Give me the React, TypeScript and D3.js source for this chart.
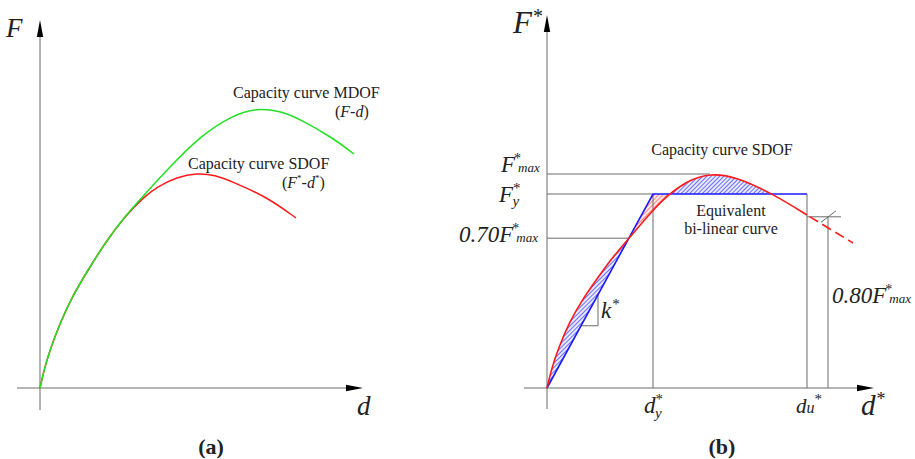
import React from "react";
import * as d3 from "d3";

// Panel (a): capacity curves (displacement d, base shear F)
const mdofD = [0, 4, 10, 20, 32, 48, 65, 85, 105, 127, 160, 193, 217, 240, 260, 293, 314];
const mdofF = [0, 18, 38, 65, 91, 118, 145, 172, 194, 218, 252, 273, 280, 277, 269, 250, 234];
const sdofD = [0, 4, 10, 20, 32, 48, 65, 85, 105, 117, 137, 157, 175, 193, 227, 256];
const sdofF = [0, 18, 38, 65, 91, 118, 145, 172, 192, 201, 211, 215, 213, 206, 191, 170];

// Panel (b): SDOF capacity curve and its bi-linear idealisation
const curveD = [0, 5, 12, 22, 35, 52, 65, 83, 106, 121, 140, 163, 190, 226, 260];
const curveF = [0, 21, 41, 65, 88, 112, 130, 151, 178, 193, 207, 215, 211, 194, 173];
const tailD = [260, 283, 306];
const tailF = [173, 159, 145];
const Fmax = 214;
const dFmax = 163;
const Fy = 194;
const dy = 106;
const du = 260;
const dAt80 = 281;
const ratio70 = 0.7;
const ratio80 = 0.8;

type P = [number, number];
const zip = (a: number[], b: number[]): P[] => a.map((v, i) => [v, b[i]]);

const SERIF = "'Liberation Serif', 'Times New Roman', 'DejaVu Serif', serif";
const AXIS = "#6b6b6b";
const TEXT = "#222";

const T = ({
  x,
  y,
  size,
  italic,
  bold,
  anchor,
  children,
}: {
  x: number;
  y: number;
  size: number;
  italic?: boolean;
  bold?: boolean;
  anchor?: "start" | "middle" | "end";
  children: React.ReactNode;
}) => (
  <text
    x={x}
    y={y}
    textAnchor={anchor ?? "start"}
    style={{
      fontFamily: SERIF,
      fontSize: size,
      fontStyle: italic ? "italic" : "normal",
      fontWeight: bold ? "bold" : "normal",
      fill: TEXT,
    }}
  >
    {children}
  </text>
);

export default function App() {
  // scales panel (a)
  const xA = d3.scaleLinear().domain([0, 320]).range([40, 360]);
  const yA = d3.scaleLinear().domain([0, 280]).range([388, 108]);
  // scales panel (b)
  const xB = d3.scaleLinear().domain([0, 330]).range([547, 877]);
  const yB = d3.scaleLinear().domain([0, 380]).range([388, 8]);

  const smooth = d3.curveBasis;
  const lineA = d3
    .line<P>()
    .x((p) => xA(p[0]))
    .y((p) => yA(p[1]))
    .curve(smooth);
  const lineB = d3
    .line<P>()
    .x((p) => xB(p[0]))
    .y((p) => yB(p[1]))
    .curve(smooth);
  const straightB = d3
    .line<P>()
    .x((p) => xB(p[0]))
    .y((p) => yB(p[1]));

  const mdof = zip(mdofD, mdofF);
  const sdof = zip(sdofD, sdofF);
  const capB = zip(curveD, curveF);
  const tailB = zip(tailD, tailF);

  const k = Fy / dy;
  const bilinear: P[] = [
    [0, 0],
    [dy, Fy],
    [du, Fy],
  ];

  const underRed = d3
    .area<P>()
    .x((p) => xB(p[0]))
    .y0(yB(0))
    .y1((p) => yB(p[1]))
    .curve(smooth)(capB) as string;
  const aboveRed = d3
    .area<P>()
    .x((p) => xB(p[0]))
    .y0(yB(380))
    .y1((p) => yB(p[1]))
    .curve(smooth)(capB) as string;
  const aboveBlue =
    straightB([
      [0, 0],
      [dy, Fy],
      [du, Fy],
      [du, 380],
      [0, 380],
    ]) + "Z";
  const underBlue =
    straightB([
      [0, 0],
      [dy, Fy],
      [du, Fy],
      [du, 0],
    ]) + "Z";

  const d70 = (ratio70 * Fmax) / k;
  const F80 = ratio80 * Fmax;
  const kd0 = 34;
  const kd1 = 51;

  const gray = (x1: number, y1: number, x2: number, y2: number, key: string) => (
    <line key={key} x1={x1} y1={y1} x2={x2} y2={y2} stroke={AXIS} strokeWidth={1} />
  );

  const arrowUp = (x: number, tip: number) => (
    <path d={`M${x},${tip} L${x - 3.2},${tip + 17} L${x + 3.2},${tip + 17} Z`} fill="#000" />
  );
  const arrowRight = (tip: number, y: number) => (
    <path d={`M${tip},${y} L${tip - 17},${y - 3.2} L${tip - 17},${y + 3.2} Z`} fill="#000" />
  );

  return (
    <svg
      width={915}
      height={459}
      style={{ position: "absolute", left: 0, top: 0, background: "#fff" }}
    >
      <defs>
        <pattern id="hatchBlue" width={3} height={3} patternUnits="userSpaceOnUse" patternTransform="rotate(45)">
          <rect width={3} height={3} fill="#e8eaff" />
          <line x1={0} y1={0} x2={0} y2={3} stroke="#2a2aff" strokeWidth={1.3} />
        </pattern>
        <pattern id="hatchRed" width={3} height={3} patternUnits="userSpaceOnUse" patternTransform="rotate(45)">
          <rect width={3} height={3} fill="#ffeaea" />
          <line x1={0} y1={0} x2={0} y2={3} stroke="#ff4040" strokeWidth={1.2} />
        </pattern>
        <clipPath id="clipUnderRed">
          <path d={underRed} />
        </clipPath>
        <clipPath id="clipAboveRed">
          <path d={aboveRed} />
        </clipPath>
        <clipPath id="clipAboveBlue">
          <path d={aboveBlue} />
        </clipPath>
        <clipPath id="clipUnderBlue">
          <path d={underBlue} />
        </clipPath>
      </defs>

      {/* ---------- Panel (a) ---------- */}
      <line x1={xA(0)} y1={410} x2={xA(0)} y2={34} stroke={AXIS} strokeWidth={1} />
      <line x1={17} y1={yA(0)} x2={348} y2={yA(0)} stroke={AXIS} strokeWidth={1} />
      {arrowUp(xA(0), 20)}
      {arrowRight(363, yA(0))}
      <path d={lineA(sdof) as string} fill="none" stroke="#ff1a1a" strokeWidth={1.5} />
      <path d={lineA(mdof) as string} fill="none" stroke="#22e022" strokeWidth={1.5} />

      <T x={6} y={37} size={27} italic>F</T>
      <T x={357} y={415} size={27} italic>d</T>
      <T x={233} y={98} size={16}>Capacity curve MDOF</T>
      <T x={335} y={117} size={16}>
        (<tspan fontStyle="italic">F</tspan>-<tspan fontStyle="italic">d</tspan>)
      </T>
      <T x={188} y={169} size={16}>Capacity curve SDOF</T>
      <T x={282} y={188} size={16}>
        (<tspan fontStyle="italic">F</tspan>
        <tspan fontSize={9} dy={-7}>*</tspan>
        <tspan dy={7}>-</tspan>
        <tspan fontStyle="italic">d</tspan>
        <tspan fontSize={9} dy={-7}>*</tspan>
        <tspan dy={7}>)</tspan>
      </T>
      <T x={211} y={454} size={22} bold anchor="middle">(a)</T>

      {/* ---------- Panel (b) ---------- */}
      {/* hatched areas between the curve and the bi-linear line */}
      <g clipPath="url(#clipUnderRed)">
        <rect
          x={xB(0)}
          y={yB(380)}
          width={xB(du) - xB(0)}
          height={yB(0) - yB(380)}
          fill="url(#hatchBlue)"
          clipPath="url(#clipAboveBlue)"
        />
      </g>
      <g clipPath="url(#clipAboveRed)">
        <rect
          x={xB(0)}
          y={yB(380)}
          width={xB(135) - xB(0)}
          height={yB(0) - yB(380)}
          fill="url(#hatchRed)"
          clipPath="url(#clipUnderBlue)"
        />
      </g>

      {/* axes */}
      <line x1={xB(0)} y1={409} x2={xB(0)} y2={30} stroke={AXIS} strokeWidth={1} />
      <line x1={524} y1={yB(0)} x2={858} y2={yB(0)} stroke={AXIS} strokeWidth={1} />
      {arrowUp(xB(0), 15)}
      {arrowRight(874, yB(0))}

      {/* reference lines */}
      {gray(xB(0), yB(Fmax), xB(dFmax), yB(Fmax), "fmax")}
      {gray(xB(0), yB(Fy), xB(dy), yB(Fy), "fy")}
      {gray(xB(0), yB(ratio70 * Fmax), xB(d70), yB(ratio70 * Fmax), "f70")}
      {gray(xB(dy), yB(Fy), xB(dy), yB(0), "dy")}
      {gray(xB(du), yB(Fy), xB(du), yB(0), "du")}
      {gray(xB(du), yB(F80), xB(du + 34), yB(F80), "f80")}
      {gray(xB(dAt80), yB(F80), xB(dAt80), yB(0), "d80")}
      {gray(xB(dAt80 - 7), yB(F80 - 5.5), xB(dAt80 + 8), yB(F80 + 6), "tick80")}
      {/* stiffness triangle */}
      {gray(xB(kd0), yB(k * kd0), xB(kd1), yB(k * kd0), "kh")}
      {gray(xB(kd1), yB(k * kd0), xB(kd1), yB(k * kd1), "kv")}

      {/* curves */}
      <path d={straightB(bilinear) as string} fill="none" stroke="#1a1aff" strokeWidth={1.6} />
      <path d={lineB(capB) as string} fill="none" stroke="#ff1a1a" strokeWidth={1.6} />
      <path
        d={lineB(tailB) as string}
        fill="none"
        stroke="#ff1a1a"
        strokeWidth={1.6}
        strokeDasharray="10 5"
        strokeDashoffset={-3}
      />

      {/* labels */}
      <T x={513} y={33} size={31} italic>
        F<tspan fontSize={20} fontStyle="normal" dx={1} dy={-10}>*</tspan>
      </T>
      <T x={861} y={415} size={29} italic>
        d<tspan fontSize={18} fontStyle="normal" dx={1} dy={-10}>*</tspan>
      </T>

      <T x={501} y={172} size={23} italic>
        F<tspan fontSize={14} fontStyle="normal" dx={-1} dy={-9}>*</tspan>
        <tspan fontSize={13} dx={-3} dy={9}>max</tspan>
      </T>
      <T x={499} y={202} size={23} italic>
        F<tspan fontSize={15} fontStyle="normal" dx={0} dy={-9}>*</tspan>
        <tspan fontSize={15} dx={-8} dy={13}>y</tspan>
      </T>
      <T x={459} y={242} size={23} italic>
        0.70F<tspan fontSize={14} fontStyle="normal" dx={-1} dy={-9}>*</tspan>
        <tspan fontSize={13} dx={-3} dy={9}>max</tspan>
      </T>
      <T x={832} y={303} size={23} italic>
        0.80F<tspan fontSize={14} fontStyle="normal" dx={-1} dy={-9}>*</tspan>
        <tspan fontSize={13} dx={-3} dy={9}>max</tspan>
      </T>
      <T x={601} y={318} size={23} italic>
        k<tspan fontSize={15} fontStyle="normal" dx={1} dy={-9}>*</tspan>
      </T>
      <T x={644} y={413} size={23} italic>
        d<tspan fontSize={15} fontStyle="normal" dx={0} dy={-9}>*</tspan>
        <tspan fontSize={15} dx={-8} dy={14}>y</tspan>
      </T>
      <T x={796} y={413} size={21} italic>
        d<tspan fontSize={16}>u</tspan>
        <tspan fontSize={15} fontStyle="normal" dx={0} dy={-9}>*</tspan>
      </T>

      <T x={722} y={155} size={16} anchor="middle">Capacity curve SDOF</T>
      <T x={731} y={216} size={16} anchor="middle">Equivalent</T>
      <T x={731} y={234} size={16} anchor="middle">bi-linear curve</T>

      <T x={722} y={454} size={22} bold anchor="middle">(b)</T>
    </svg>
  );
}
